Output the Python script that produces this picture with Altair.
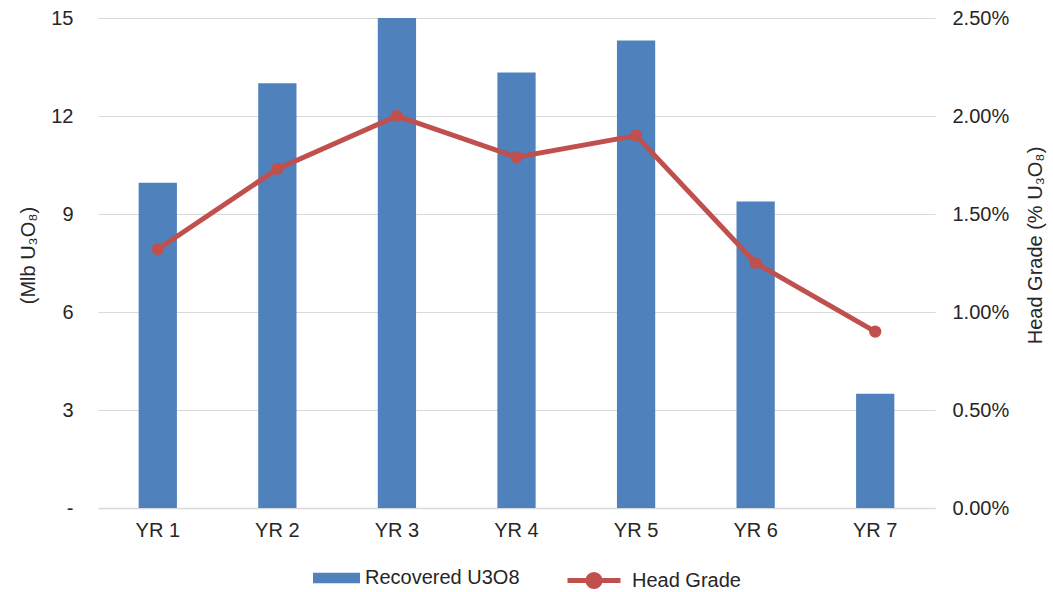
import altair as alt
import pandas as pd

# Annual production profile
years = ["YR 1", "YR 2", "YR 3", "YR 4", "YR 5", "YR 6", "YR 7"]
recovered_mlb = [9.96, 13.0, 15.0, 13.33, 14.31, 9.38, 3.5]           # Mlb U3O8
head_grade = [0.0132, 0.0173, 0.0200, 0.0179, 0.0190, 0.0125, 0.0090]  # % U3O8

left_ticks = [0, 3, 6, 9, 12, 15]
right_ticks = [0, 0.005, 0.010, 0.015, 0.020, 0.025]

BLUE = "#4F81BD"
RED = "#C0504D"
TEXT = "#262626"
GRID = "#d9d9d9"
FONT = "Liberation Sans"

df = pd.DataFrame({"year": years, "recovered": recovered_mlb, "grade": head_grade})

x_enc = alt.X(
    "year:N",
    sort=years,
    title=None,
    scale=alt.Scale(paddingInner=0.68, paddingOuter=0.34),
    axis=alt.Axis(
        labelAngle=0,
        ticks=False,
        grid=False,
        domainColor=GRID,
        domainWidth=1.5,
        labelPadding=12,
        labelFontSize=20,
        labelColor=TEXT,
        labelFont=FONT,
    ),
)

bars = (
    alt.Chart(df)
    .transform_calculate(series="'Recovered U3O8'")
    .mark_bar()
    .encode(
        x=x_enc,
        y=alt.Y(
            "recovered:Q",
            scale=alt.Scale(domain=[0, 15], nice=False),
            axis=alt.Axis(
                orient="left",
                values=left_ticks,
                labelExpr="datum.value == 0 ? '-\u00a0\u00a0' : datum.label",
                ticks=False,
                domain=False,
                grid=True,
                gridColor=GRID,
                gridWidth=1.2,
                labelPadding=25,
                labelFontSize=20,
                labelColor=TEXT,
                labelFont=FONT,
                title="(Mlb U\u2083O\u2088)",
                titleFontSize=20,
                titleFontWeight="normal",
                titleColor=TEXT,
                titleFont=FONT,
                titleAngle=270,
                titleAlign="center",
                titleBaseline="middle",
                titleX=-70,
                titleY=237,
            ),
        ),
        fill=alt.Fill(
            "series:N",
            scale=alt.Scale(domain=["Recovered U3O8"], range=[BLUE]),
            legend=alt.Legend(
                title=None,
                orient="none",
                legendX=215,
                legendY=536.5,
                direction="horizontal",
                padding=0,
                symbolType="M-1,-0.22H1V0.22H-1Z",
                symbolSize=2209,
                symbolStrokeWidth=0,
                labelOffset=5,
                labelFontSize=20,
                labelColor=TEXT,
                labelFont=FONT,
            ),
        ),
    )
)

line = (
    alt.Chart(df)
    .transform_calculate(series="'Head Grade'")
    .mark_line(strokeWidth=5, point=alt.OverlayMarkDef(filled=True, size=150))
    .encode(
        x=x_enc,
        y=alt.Y(
            "grade:Q",
            scale=alt.Scale(domain=[0, 0.025], nice=False),
            axis=alt.Axis(
                orient="right",
                values=right_ticks,
                format=".2%",
                ticks=False,
                domain=False,
                grid=False,
                labelPadding=17,
                labelFontSize=20,
                labelColor=TEXT,
                labelFont=FONT,
                title="Head Grade (% U\u2083O\u2088)",
                titleFontSize=20,
                titleFontWeight="normal",
                titleColor=TEXT,
                titleFont=FONT,
                titleAngle=270,
                titleAlign="center",
                titleBaseline="middle",
                titleX=100,
                titleY=227,
            ),
        ),
        color=alt.Color(
            "series:N",
            scale=alt.Scale(domain=["Head Grade"], range=[RED]),
            legend=alt.Legend(
                title=None,
                orient="none",
                legendX=467,
                legendY=533.5,
                direction="horizontal",
                padding=0,
                symbolType="M-1,0H1M-0.23,0A0.23,0.23 0 1,1 0.23,0A0.23,0.23 0 1,1 -0.23,0Z",
                symbolSize=2809,
                symbolStrokeWidth=5,
                symbolFillColor=RED,
                symbolStrokeColor=RED,
                labelOffset=9,
                labelFontSize=20,
                labelColor=TEXT,
                labelFont=FONT,
            ),
        ),
    )
)

chart = (
    alt.layer(bars, line)
    .resolve_scale(y="independent")
    .properties(
        width=837,
        height=490,
        autosize="none",
        padding={"left": 98, "top": 18, "right": 118, "bottom": 84},
    )
    .configure(font=FONT)
    .configure_view(stroke="transparent", strokeWidth=0)
)

chart.save("out.html", embed_options={"renderer": "svg", "actions": False})
